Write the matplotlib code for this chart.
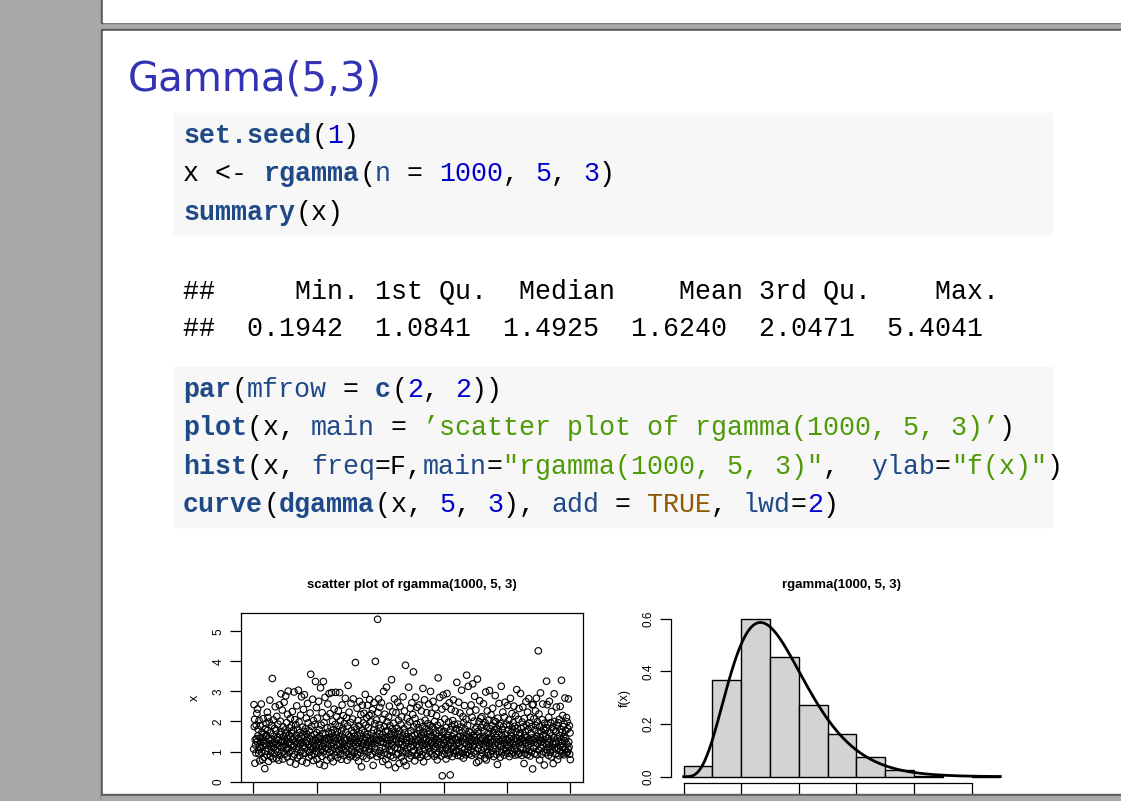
import math
import matplotlib
matplotlib.use("Agg")
import matplotlib.pyplot as plt
from matplotlib.patches import Rectangle

W, H = 1121, 801

# x values of the scatter plot (hundredths)
x_codes = """
108 256 183 207 061 139 121 095 188 143 227 132 241 152 174 105 093 203 118 069 145 186 130 112 258 097 164 147 073 119 209 135 158 081 126 043 176 102 149 193
154 122 089 231 170 213 110 067 142 198 125 271 136 084 162 099 115 187 140 343 128 076 205 151 113 092 177 133 249 106 169 141 078 217 124 146 100 191 138 071
119 255 157 087 201 129 292 114 166 098 238 137 075 182 150 118 264 134 091 172 123 285 160 107 196 144 082 224 127 301 111 153 096 179 131 065 210 148 121 185
161 103 233 139 083 171 117 298 145 090 206 132 058 189 154 110 252 126 079 174 142 304 115 198 137 086 163 124 221 101 149 282 130 068 181 155 095 240 120 167
289 113 147 094 176 128 211 062 158 135 260 104 195 122 081 169 143 098 228 116 357 152 087 184 131 109 274 140 070 203 125 156 092 190 118 333 137 101 246 163
074 211 129 146 095 267 120 173 058 150 134 312 107 188 142 084 229 117 160 099 333 127 196 053 138 280 112 157 090 215 144 071 179 123 258 108 165 139 293 097
148 226 136 079 182 118 296 161 103 201 129 066 172 145 241 111 088 190 133 297 156 098 216 121 166 080 143 235 106 184 127 296 152 091 203 139 074 169 114 255
130 178 104 219 145 086 193 122 137 277 109 164 097 212 140 071 185 119 320 155 092 231 126 149 082 197 134 260 101 170 143 088 208 117 275 162 129 095 181 150
123 396 138 081 175 116 244 152 091 203 129 068 186 144 267 107 159 095 223 132 049 171 120 254 141 084 195 127 227 103 164 136 290 112 188 148 077 212 123 254
157 098 179 131 220 108 273 145 087 199 134 225 119 160 091 239 128 054 171 141 263 112 193 126 400 097 152 138 205 083 166 540 230 137 275 094 189 159 247 102
178 131 088 262 145 114 207 067 155 130 300 096 183 142 224 110 167 074 148 314 125 199 090 170 136 056 215 119 251 104 186 147 085 159 127 339 099 176 140 232
121 080 194 152 275 113 165 046 141 229 135 089 178 111 264 158 093 204 127 060 168 146 250 105 190 133 082 215 124 152 096 282 140 067 176 118 235 162 101 387
129 053 149 137 211 109 187 093 161 314 126 078 199 143 244 115 169 086 134 262 150 098 223 120 365 182 103 155 069 210 132 281 141 087 192 124 247 159 092 179
136 116 255 101 171 145 081 197 129 235 154 090 182 121 310 138 066 164 148 272 107 204 125 092 176 141 229 118 160 084 193 133 258 112 168 099 186 147 300 127
152 227 092 183 136 121 267 107 175 146 084 200 129 245 116 161 091 219 138 072 187 124 345 151 097 169 132 280 111 196 143 085 172 123 241 019 104 164 288 139
128 167 091 208 141 113 250 075 180 133 293 105 155 146 088 198 120 262 139 096 022 172 128 240 109 185 150 083 203 136 272 117 161 094 190 143 234 102 176 128
102 330 139 087 191 148 127 264 099 170 121 228 151 085 182 135 304 112 163 094 216 146 078 196 130 253 108 174 142 089 208 123 354 157 097 187 134 317 115 166
148 092 232 126 163 103 255 140 087 214 132 325 117 154 098 201 147 284 124 175 092 238 137 063 181 152 341 110 167 131 068 199 121 269 145 087 211 135 179 104
216 143 095 189 125 259 111 168 151 078 196 136 298 119 072 183 130 235 098 160 144 087 205 127 303 114 176 139 091 222 150 102 186 132 244 115 164 083 202 140
173 120 286 108 199 147 090 175 132 057 211 124 166 141 260 099 187 134 081 193 118 317 155 096 172 138 231 106 183 145 088 215 128 264 111 158 139 102 191 121
094 253 138 172 118 205 145 083 187 131 277 104 163 150 092 226 125 174 098 196 141 251 108 184 133 088 219 122 166 145 306 100 177 136 090 207 127 243 154 095
161 131 293 114 176 143 087 198 125 248 110 182 137 060 210 152 094 166 129 266 106 188 148 089 231 119 173 140 276 101 195 134 085 214 127 160 098 183 145 255
042 138 257 111 209 130 093 172 144 235 187 118 277 150 089 199 126 162 435 105 225 138 072 184 147 295 114 168 132 091 206 122 258 153 099 177 140 055 194 127
170 151 096 179 334 123 256 105 189 144 087 214 130 267 115 162 098 196 139 082 233 152 108 181 125 060 172 146 292 112 200 134 091 168 128 248 106 186 143 073
111 196 132 086 207 153 118 250 101 174 140 337 127 164 094 220 115 183 149 089 191 136 278 107 170 143 095 213 124 199 098 176 108 275 132 115 186 091 162 073
"""
x_vals = [int(c) / 100 for c in x_codes.split()]

# histogram (freq = F): breaks and densities
breaks = [0.0, 0.5, 1.0, 1.5, 2.0, 2.5, 3.0, 3.5, 4.0, 4.5, 5.0, 5.5]
density = [0.042, 0.366, 0.598, 0.456, 0.272, 0.162, 0.074, 0.026, 0.002, 0.0, 0.002]

FUNC = "#204a87"
NUM = "#0000cf"
STR = "#4e9a06"
CONST = "#8f5902"
BLK = "#000000"

# code lines as (text, colour, bold) segments
block1 = [
    [("set.seed", FUNC, True), ("(", BLK, False), ("1", NUM, False), (")", BLK, False)],
    [("x <- ", BLK, False), ("rgamma", FUNC, True), ("(", BLK, False), ("n", FUNC, False),
     (" = ", BLK, False), ("1000", NUM, False), (", ", BLK, False), ("5", NUM, False),
     (", ", BLK, False), ("3", NUM, False), (")", BLK, False)],
    [("summary", FUNC, True), ("(x)", BLK, False)],
]
output = [
    "##     Min. 1st Qu.  Median    Mean 3rd Qu.    Max. ",
    "##  0.1942  1.0841  1.4925  1.6240  2.0471  5.4041 ",
]
block2 = [
    [("par", FUNC, True), ("(", BLK, False), ("mfrow", FUNC, False), (" = ", BLK, False),
     ("c", FUNC, True), ("(", BLK, False), ("2", NUM, False), (", ", BLK, False),
     ("2", NUM, False), ("))", BLK, False)],
    [("plot", FUNC, True), ("(x, ", BLK, False), ("main", FUNC, False), (" = ", BLK, False),
     ("\u2019scatter plot of rgamma(1000, 5, 3)\u2019", STR, False), (")", BLK, False)],
    [("hist", FUNC, True), ("(x, ", BLK, False), ("freq", FUNC, False), ("=F,", BLK, False),
     ("main", FUNC, False), ("=", BLK, False), ('"rgamma(1000, 5, 3)"', STR, False),
     (",  ", BLK, False), ("ylab", FUNC, False), ("=", BLK, False), ('"f(x)"', STR, False),
     (")", BLK, False)],
    [("curve", FUNC, True), ("(", BLK, False), ("dgamma", FUNC, True), ("(x, ", BLK, False),
     ("5", NUM, False), (", ", BLK, False), ("3", NUM, False), ("), ", BLK, False),
     ("add", FUNC, False), (" = ", BLK, False), ("TRUE", CONST, False), (", ", BLK, False),
     ("lwd", FUNC, False), ("=", BLK, False), ("2", NUM, False), (")", BLK, False)],
]

CHAR_W = 16.0
MONO = "Liberation Mono"
MONO_PT = 19.2
SANS = "Liberation Sans"


def px_axes(fig, x0, y0, x1, y1):
    return fig.add_axes([x0 / W, 1 - y1 / H, (x1 - x0) / W, (y1 - y0) / H])


def code_line(ax, x, y, segs):
    i = 0
    for txt, col, bold in segs:
        ax.text(x + i * CHAR_W, y, txt, color=col, family=MONO, fontsize=MONO_PT,
                fontweight="bold" if bold else "normal", va="baseline", ha="left")
        i += len(txt)


fig = plt.figure(figsize=(W / 100, H / 100), dpi=100)
bg = fig.add_axes([0, 0, 1, 1])
bg.set_xlim(0, W)
bg.set_ylim(H, 0)
bg.axis("off")
bg.add_patch(Rectangle((0, 0), W, H, color="#a9a9a9", zorder=0))
bg.add_patch(Rectangle((101, 0), W, 23, color="#5a5a5a", zorder=1))
bg.add_patch(Rectangle((103, 0), W, 21.5, color="white", zorder=2))
bg.add_patch(Rectangle((101, 29), W, 770, color="#5a5a5a", zorder=1))
bg.add_patch(Rectangle((103, 30.5), W, 770, color="white", zorder=2))

bg.text(128, 90, "Gamma(5,3)", color="#3333b3", fontsize=29, family="DejaVu Sans",
        va="baseline", ha="left")

bg.add_patch(Rectangle((174, 113), 878, 121, color="#f7f7f7", zorder=3))
bg.add_patch(Rectangle((174, 367), 878, 160, color="#f7f7f7", zorder=3))
for k, segs in enumerate(block1):
    code_line(bg, 183, 143 + k * 38.3, segs)
for k, line in enumerate(output):
    bg.text(183, 298 + k * 37.5, line, family=MONO, fontsize=MONO_PT, va="baseline")
for k, segs in enumerate(block2):
    code_line(bg, 183, 397 + k * 38.3, segs)

# scatter plot
ax1 = px_axes(fig, 241, 613, 583, 782)
idx = list(range(1, len(x_vals) + 1))
ax1.scatter(idx, x_vals, s=22, facecolors="none", edgecolors="black", linewidths=0.8)
ax1.set_xlim(-39, 1040)
ax1.set_ylim(-0.015, 5.61)
ax1.set_title("scatter plot of rgamma(1000, 5, 3)", fontsize=9.5, fontweight="bold",
              family=SANS, pad=18)
ax1.set_ylabel("x", fontsize=9, family=SANS, labelpad=8)
ax1.set_xticks([0, 200, 400, 600, 800, 1000])
ax1.set_yticks([0, 1, 2, 3, 4, 5])

# histogram with gamma density
ax2 = px_axes(fig, 671, 613, 1013, 783)
for lo, hi, d in zip(breaks[:-1], breaks[1:], density):
    if d > 0:
        ax2.bar(lo, d, width=hi - lo, align="edge", color="#d3d3d3",
                edgecolor="black", linewidth=1)
xs = [i * 5.5 / 400 for i in range(401)]
pdf = [3 ** 5 * v ** 4 * math.exp(-3 * v) / math.gamma(5) for v in xs]
ax2.plot(xs, pdf, color="black", lw=2)
ax2.set_xlim(-0.22, 5.72)
ax2.set_ylim(-0.024, 0.622)
ax2.set_title("rgamma(1000, 5, 3)", fontsize=9.5, fontweight="bold", family=SANS, pad=18)
ax2.set_ylabel("f(x)", fontsize=9, family=SANS, labelpad=8)
ax2.set_xticks([0, 1, 2, 3, 4, 5])
ax2.set_yticks([0.0, 0.2, 0.4, 0.6])
ax2.set_yticklabels(["0.0", "0.2", "0.4", "0.6"])
for s in ["top", "right"]:
    ax2.spines[s].set_visible(False)
ax2.spines["left"].set_bounds(0, 0.6)
ax2.spines["bottom"].set_bounds(0, 5)

for ax in (ax1, ax2):
    ax.set_facecolor("none")
    ax.tick_params(length=8, width=0.9, labelsize=8.5, pad=4)
    ax.tick_params(axis="x", labelbottom=False)
    ax.tick_params(axis="y", labelrotation=90)
    for lab in ax.get_yticklabels():
        lab.set_va("center")
        lab.set_family(SANS)
    for sp in ax.spines.values():
        sp.set_linewidth(0.9)

# bottom slide edge covers the tick labels
top = fig.add_axes([0, 0, 1, 1], zorder=10)
top.set_xlim(0, W)
top.set_ylim(H, 0)
top.axis("off")
top.patch.set_alpha(0)
top.add_patch(Rectangle((101, 794), W, 7, color="#5a5a5a"))
top.add_patch(Rectangle((101, 795.5), W, 6, color="#a9a9a9"))

fig.savefig("out.png", dpi=100)
